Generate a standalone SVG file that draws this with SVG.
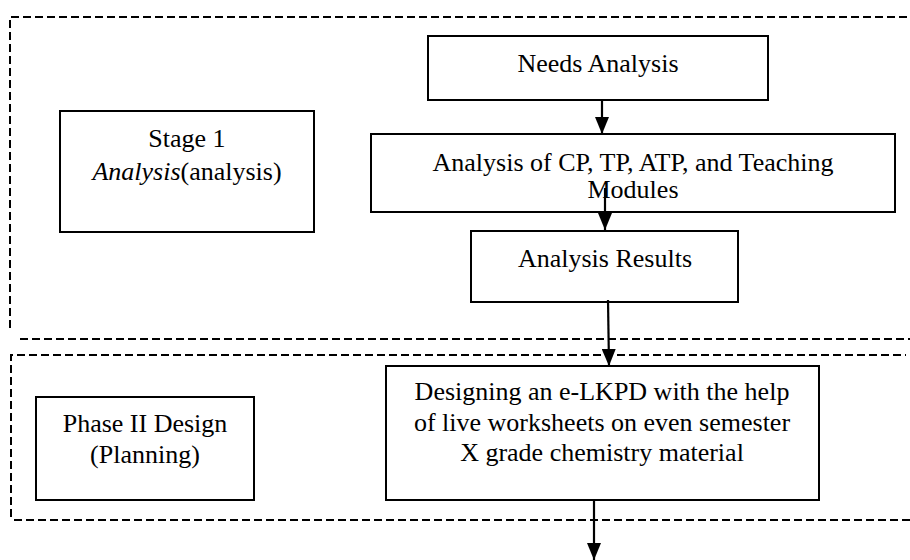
<svg xmlns="http://www.w3.org/2000/svg" width="910" height="560" viewBox="0 0 910 560">
<style>
.box{fill:#fff;stroke:#000;stroke-width:2}
.dash{fill:none;stroke:#000;stroke-width:2;stroke-dasharray:8 4}
.t{font-family:"Liberation Serif","Times New Roman",serif;font-size:26px;fill:#000;text-anchor:middle}
.ln{stroke:#000;stroke-width:2.2;fill:none}
</style>
<defs>
<marker id="ah" markerWidth="17" markerHeight="14" refX="17" refY="7" orient="auto" markerUnits="userSpaceOnUse" viewBox="0 0 17 14">
<path d="M0,0 L17,7 L0,14 Z" fill="#000"/>
</marker>
</defs>
<rect width="910" height="560" fill="#fff"/>
<g id="stage1-frame">
<path class="dash" d="M10,328 V17 H910"/>
<path class="dash" d="M20,339 H910"/>
</g>
<g id="stage2-frame">
<path class="dash" d="M11,517 V355 H906"/>
<path class="dash" d="M14,520 H910"/>
</g>
<g id="stage1">
<rect class="box" x="60" y="111" width="254" height="121"/>
<text class="t" x="187" y="147">Stage 1</text>
<text class="t" x="187" y="180"><tspan font-style="italic">Analysis</tspan>(analysis)</text>
</g>
<g id="needs">
<rect class="box" x="428" y="36" width="340" height="64"/>
<text class="t" x="598" y="72">Needs Analysis</text>
</g>
<g id="analysis-cp">
<rect class="box" x="371" y="134" width="524" height="78"/>
<text class="t" x="633" y="171">Analysis of CP, TP, ATP, and Teaching</text>
<text class="t" x="633" y="198">Modules</text>
</g>
<g id="results">
<rect class="box" x="471" y="231" width="267" height="71"/>
<text class="t" x="605" y="267">Analysis Results</text>
</g>
<g id="phase2">
<rect class="box" x="36" y="397" width="218" height="103"/>
<text class="t" x="145" y="432">Phase II Design</text>
<text class="t" x="145" y="463">(Planning)</text>
</g>
<g id="design">
<rect class="box" x="386" y="366" width="433" height="134"/>
<text class="t" x="602" y="400">Designing an e-LKPD with the help</text>
<text class="t" x="602" y="431">of live worksheets on even semester</text>
<text class="t" x="602" y="461">X grade chemistry material</text>
</g>
<g id="connectors">
<line class="ln" x1="602" y1="100" x2="602" y2="134" marker-end="url(#ah)"/>
<line class="ln" x1="605" y1="188" x2="605" y2="230" marker-end="url(#ah)"/>
<line class="ln" x1="608" y1="300" x2="609" y2="366" stroke-width="3" marker-end="url(#ah)"/>
<line class="ln" x1="594" y1="500" x2="594" y2="560" marker-end="url(#ah)"/>
</g>
</svg>
